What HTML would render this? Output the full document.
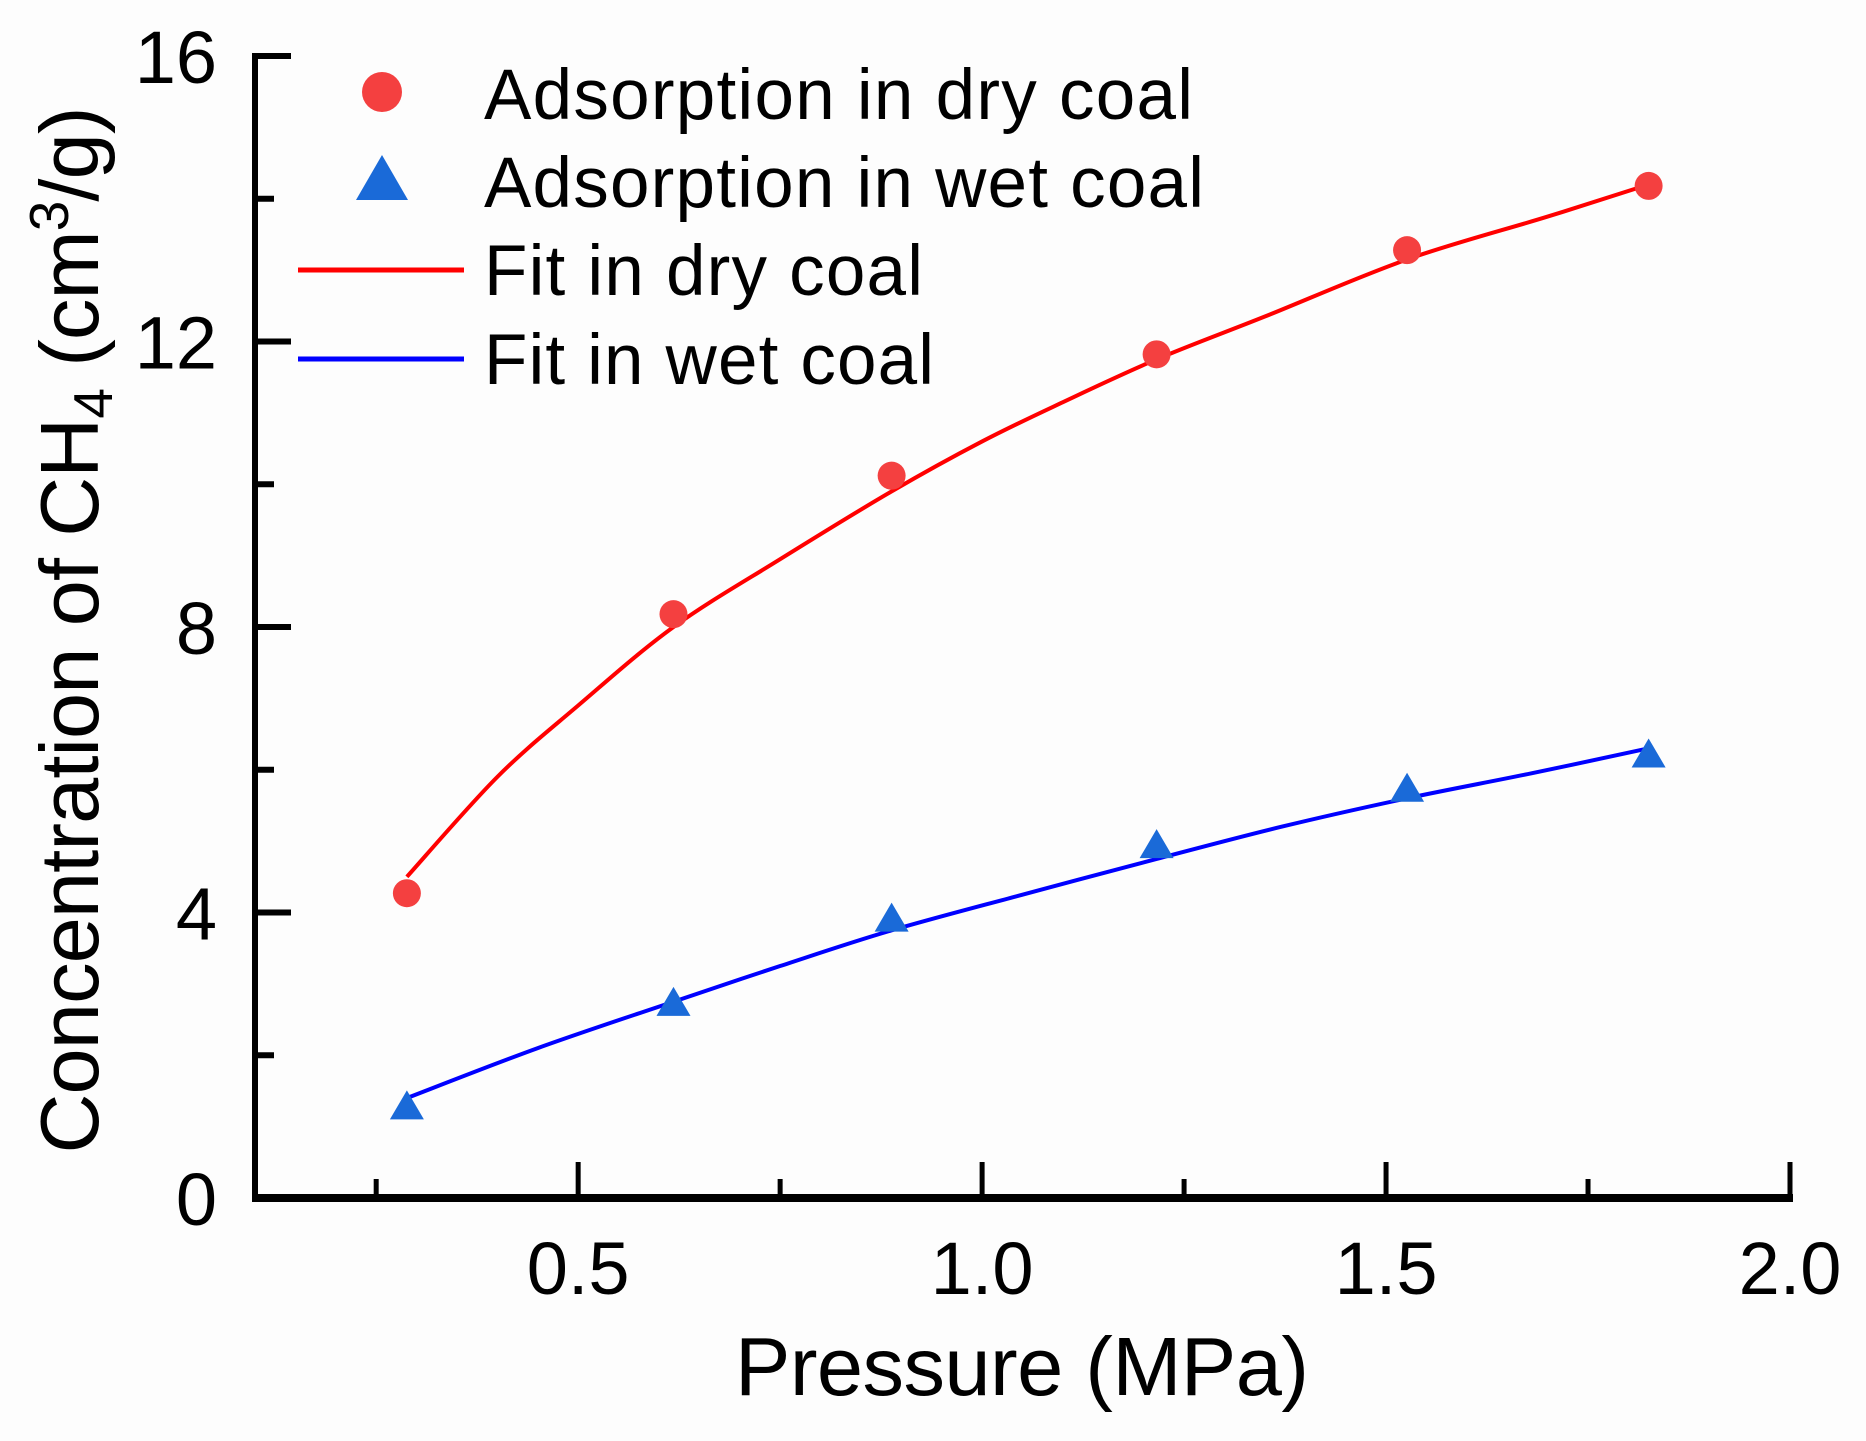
<!DOCTYPE html>
<html><head><meta charset="utf-8"><style>
html,body{margin:0;padding:0;background:#fff;}
svg{display:block;font-family:"Liberation Sans",Arial,sans-serif;}
</style></head><body>
<svg id="chart" width="1866" height="1441" viewBox="0 0 1866 1441" xmlns="http://www.w3.org/2000/svg">
<rect width="1866" height="1441" fill="#fdfdfd"/>
<g id="plot"></g>
<g id="legend">
  <circle cx="382" cy="92" r="20" fill="#f44040"/>
  <polygon points="382,155 408,200 356,200" fill="#1a6ad8"/>
  <line x1="298" y1="270" x2="464" y2="270" stroke="#ff0000" stroke-width="5"/>
  <line x1="298" y1="359" x2="464" y2="359" stroke="#0000ff" stroke-width="5"/>
  <text x="484" y="119" font-size="71" textLength="709">Adsorption in dry coal</text>
  <text x="484" y="207" font-size="71" textLength="720">Adsorption in wet coal</text>
  <text x="484" y="295" font-size="71" textLength="439">Fit in dry coal</text>
  <text x="484" y="384" font-size="71" textLength="450">Fit in wet coal</text>
</g>
<text x="1022" y="1395" font-size="83" text-anchor="middle" textLength="574">Pressure (MPa)</text>
<text transform="translate(98,630) rotate(-90)" font-size="83" text-anchor="middle" textLength="1047">Concentration of CH<tspan font-size="55" dy="14">4</tspan><tspan dy="-14"> (cm</tspan><tspan font-size="55" dy="-30">3</tspan><tspan dy="30">/g)</tspan></text>
</svg>
<script>
const dryX = [0.288, 0.618, 0.888, 1.216, 1.526, 1.825];
const dryY = [4.27, 8.18, 10.12, 11.82, 13.28, 14.18];
const wetX = [0.288, 0.618, 0.888, 1.216, 1.526, 1.825];
const wetY = [1.27, 2.72, 3.9, 4.93, 5.72, 6.2];
const dryFitX = [0.288, 0.4, 0.5, 0.618, 0.75, 0.888, 1.0, 1.1, 1.216, 1.35, 1.526, 1.7, 1.825];
const dryFitY = [4.5, 5.9, 6.9, 8.0, 8.95, 9.9, 10.6, 11.15, 11.75, 12.35, 13.15, 13.75, 14.2];
const wetFitX = [0.288, 0.45, 0.618, 0.75, 0.888, 1.05, 1.216, 1.37, 1.526, 1.68, 1.825];
const wetFitY = [1.4, 2.1, 2.75, 3.25, 3.75, 4.25, 4.75, 5.2, 5.6, 5.95, 6.3];
const xTicks = [0.5, 1.0, 1.5, 2.0];
const xTickLabels = ["0.5", "1.0", "1.5", "2.0"];
const xMinor = [0.25, 0.75, 1.25, 1.75];
const yTicks = [0, 4, 8, 12, 16];
const yTickLabels = ["0", "4", "8", "12", "16"];
const yMinor = [2, 6, 10, 14];

const X0 = 255, X1 = 1790, XMIN = 0.1, XMAX = 2.0;
const Y0 = 1198, Y1 = 56, YMIN = 0, YMAX = 16;
const sx = v => X0 + (v - XMIN) / (XMAX - XMIN) * (X1 - X0);
const sy = v => Y0 - (v - YMIN) / (YMAX - YMIN) * (Y0 - Y1);
const NS = "http://www.w3.org/2000/svg";
const plot = document.getElementById('plot');
function mk(tag, attrs, parent) {
  const e = document.createElementNS(NS, tag);
  for (const k in attrs) e.setAttribute(k, attrs[k]);
  (parent || plot).appendChild(e);
  return e;
}
function smoothPath(xs, ys) {
  const p = xs.map((x, i) => [sx(x), sy(ys[i])]);
  let d = `M${p[0][0]},${p[0][1]}`;
  for (let i = 0; i < p.length - 1; i++) {
    const p0 = p[Math.max(0, i - 1)], p1 = p[i], p2 = p[i + 1], p3 = p[Math.min(p.length - 1, i + 2)];
    const c1 = [p1[0] + (p2[0] - p0[0]) / 6, p1[1] + (p2[1] - p0[1]) / 6];
    const c2 = [p2[0] - (p3[0] - p1[0]) / 6, p2[1] - (p3[1] - p1[1]) / 6];
    d += ` C${c1[0]},${c1[1]} ${c2[0]},${c2[1]} ${p2[0]},${p2[1]}`;
  }
  return d;
}
let e;
e = mk('line', {x1: X0, y1: Y1 - 3, x2: X0, y2: Y0 + 4, stroke: '#000', 'stroke-width': 6});


e = mk('line', {x1: X0 - 3, y1: Y0, x2: X1 + 3, y2: Y0, stroke: '#000', 'stroke-width': 8});


xTicks.forEach((v, i) => {
  e = mk('line', {x1: sx(v), y1: Y0, x2: sx(v), y2: Y0 - 36, stroke: '#000', 'stroke-width': 5});
  
  
  e = mk('text', {x: sx(v), y: 1294, 'font-size': 74, 'text-anchor': 'middle'});
  e.textContent = xTickLabels[i];
  
  
});
xMinor.forEach(v => {
  e = mk('line', {x1: sx(v), y1: Y0, x2: sx(v), y2: Y0 - 19, stroke: '#000', 'stroke-width': 5});
  
  
});
yTicks.forEach((v, i) => {
  e = mk('line', {x1: X0, y1: sy(v), x2: X0 + 36, y2: sy(v), stroke: '#000', 'stroke-width': 6});
  
  
  e = mk('text', {x: 217, y: sy(v) + 27, 'font-size': 74, 'text-anchor': 'end'});
  e.textContent = yTickLabels[i];
  
  
});
yMinor.forEach(v => {
  e = mk('line', {x1: X0, y1: sy(v), x2: X0 + 19, y2: sy(v), stroke: '#000', 'stroke-width': 6});
  
  
});
e = mk('path', {d: smoothPath(dryFitX, dryFitY), fill: 'none', stroke: '#ff0000', 'stroke-width': 4});


e = mk('path', {d: smoothPath(wetFitX, wetFitY), fill: 'none', stroke: '#0000ff', 'stroke-width': 4});


dryX.forEach((x, i) => {
  e = mk('circle', {cx: sx(x), cy: sy(dryY[i]), r: 14, fill: '#f44040'});
  
  
});
wetX.forEach((x, i) => {
  const cx = sx(x), cy = sy(wetY[i]);
  e = mk('polygon', {points: `${cx},${cy - 17} ${cx + 17},${cy + 12} ${cx - 17},${cy + 12}`, fill: '#1a6ad8'});
  
  
});
</script>
</body></html>
